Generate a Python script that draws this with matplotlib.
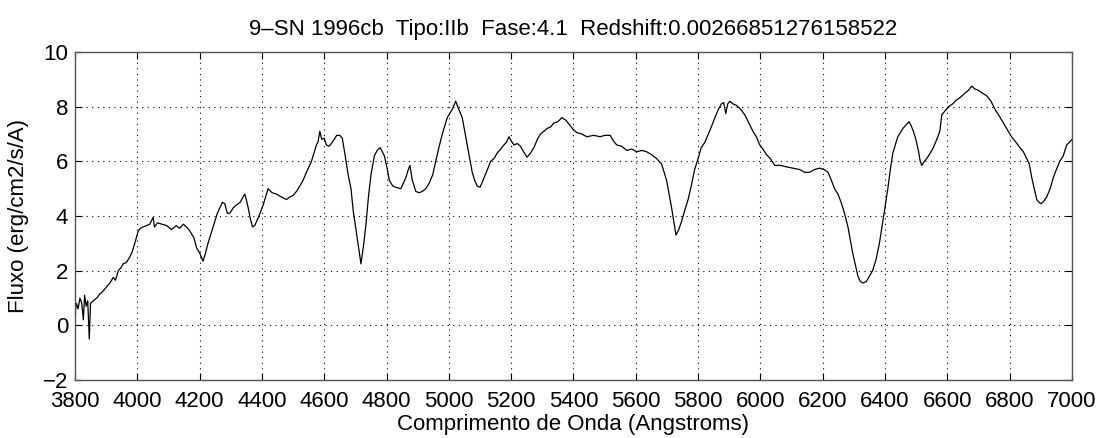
import matplotlib
matplotlib.use("Agg")
import matplotlib.pyplot as plt
import numpy as np

# ---------------------------------------------------------------------
# Spectrum values (wavelength in Angstrom, flux)
# ---------------------------------------------------------------------
wavelength = [
    3800, 3802, 3805, 3810, 3816, 3822, 3827, 3831, 3836, 3841, 3846, 3850,
    3859, 3870, 3880, 3890, 3901, 3912, 3923, 3930, 3939, 3947, 3955, 3965,
    3976, 3984, 3992, 4003, 4010, 4019, 4030, 4040, 4051, 4055, 4065, 4080,
    4094, 4110, 4125, 4136, 4148, 4158, 4166, 4174, 4182, 4190, 4200, 4211,
    4218, 4227, 4238, 4249, 4257, 4265, 4273, 4281, 4289, 4297, 4308, 4318,
    4330, 4345, 4350, 4356, 4363, 4370, 4377, 4383, 4394, 4404, 4412, 4420,
    4433, 4447, 4462, 4479, 4490, 4500, 4511, 4522, 4532, 4543, 4551, 4559,
    4567, 4575, 4580, 4586, 4592, 4600, 4607, 4615, 4623, 4632, 4640, 4650,
    4658, 4666, 4677, 4686, 4693, 4702, 4710, 4718, 4726, 4734, 4742, 4750,
    4761, 4770, 4780, 4793, 4801, 4809, 4820, 4830, 4846, 4862, 4870, 4875,
    4883, 4894, 4905, 4915, 4926, 4937, 4948, 4958, 4968, 4979, 4995, 5011,
    5022, 5032, 5043, 5051, 5059, 5067, 5075, 5083, 5091, 5100, 5106, 5113,
    5124, 5134, 5145, 5155, 5166, 5177, 5185, 5193, 5200, 5209, 5220, 5230,
    5240, 5251, 5262, 5273, 5284, 5294, 5305, 5315, 5326, 5337, 5350, 5363,
    5376, 5390, 5400, 5411, 5427, 5443, 5465, 5486, 5500, 5518, 5528, 5539,
    5555, 5571, 5587, 5603, 5620, 5635, 5650, 5667, 5675, 5683, 5691, 5699,
    5707, 5715, 5722, 5729, 5738, 5747, 5757, 5768, 5778, 5789, 5800, 5810,
    5822, 5833, 5844, 5854, 5865, 5875, 5882, 5889, 5895, 5902, 5912, 5923,
    5937, 5950, 5963, 5976, 5987, 5998, 6008, 6019, 6032, 6046, 6064, 6083,
    6104, 6126, 6142, 6158, 6174, 6190, 6204, 6217, 6228, 6238, 6249, 6259,
    6270, 6281, 6289, 6297, 6305, 6313, 6321, 6329, 6340, 6350, 6360, 6371,
    6382, 6393, 6401, 6409, 6417, 6425, 6433, 6441, 6449, 6457, 6465, 6477,
    6484, 6491, 6499, 6507, 6513, 6518, 6526, 6534, 6545, 6555, 6566, 6576,
    6582, 6593, 6604, 6617, 6630, 6643, 6657, 6668, 6678, 6688, 6699, 6712,
    6726, 6740, 6753, 6767, 6780, 6793, 6806, 6820, 6833, 6844, 6855, 6863,
    6871, 6879, 6887, 6894, 6901, 6910, 6919, 6930, 6940, 6950, 6961, 6972,
    6983, 6992, 7000,
]
flux = [
    -0.3, 0.6, 0.8, 0.6, 1.0, 0.8, 0.2, 1.1, 0.7, 0.9, -0.5, 0.8,
    0.9, 1.0, 1.15, 1.25, 1.4, 1.55, 1.75, 1.65, 2.0, 2.1, 2.25, 2.3,
    2.5, 2.7, 3.0, 3.45, 3.55, 3.6, 3.65, 3.7, 3.95, 3.6, 3.75, 3.7,
    3.65, 3.5, 3.65, 3.55, 3.7, 3.6, 3.5, 3.35, 3.2, 2.85, 2.65, 2.35,
    2.6, 3.0, 3.4, 3.8, 4.1, 4.3, 4.5, 4.45, 4.1, 4.1, 4.3, 4.4,
    4.5, 4.8, 4.6, 4.3, 3.9, 3.6, 3.65, 3.8, 4.1, 4.4, 4.7, 5.0,
    4.85, 4.8, 4.7, 4.6, 4.7, 4.75, 4.9, 5.1, 5.3, 5.6, 5.8, 6.0,
    6.3, 6.6, 6.7, 7.1, 6.8, 6.85, 6.6, 6.55, 6.65, 6.8, 6.95, 6.95,
    6.85, 6.3, 5.5, 5.0, 4.2, 3.5, 2.9, 2.25, 2.9, 3.7, 4.7, 5.5,
    6.2, 6.4, 6.5, 6.2, 5.8, 5.3, 5.1, 5.05, 5.0, 5.4, 5.7, 5.85,
    5.3, 4.9, 4.85, 4.9, 5.0, 5.2, 5.5, 6.0, 6.5, 7.0, 7.6, 7.9,
    8.2, 7.9, 7.6, 7.1, 6.6, 6.1, 5.6, 5.3, 5.1, 5.05, 5.2, 5.4,
    5.7, 6.0, 6.1, 6.3, 6.45, 6.6, 6.7, 6.9, 6.75, 6.6, 6.65, 6.55,
    6.35, 6.15, 6.3, 6.5, 6.8, 7.0, 7.1, 7.2, 7.25, 7.4, 7.45, 7.6,
    7.5, 7.3, 7.15, 7.05, 7.0, 6.9, 6.95, 6.9, 6.95, 6.95, 6.75, 6.6,
    6.55, 6.4, 6.45, 6.35, 6.4, 6.35, 6.25, 6.1, 6.0, 5.9, 5.6, 5.3,
    4.8, 4.3, 3.8, 3.3, 3.5, 3.8, 4.2, 4.6, 5.1, 5.7, 6.1, 6.5,
    6.7, 7.0, 7.3, 7.6, 7.9, 8.1, 8.15, 7.75, 8.1, 8.2, 8.1, 8.05,
    7.9, 7.7, 7.4, 7.1, 6.9, 6.6, 6.45, 6.25, 6.1, 5.85, 5.85, 5.8,
    5.75, 5.7, 5.6, 5.6, 5.7, 5.75, 5.7, 5.6, 5.3, 5.0, 4.8, 4.5,
    4.1, 3.6, 3.1, 2.6, 2.2, 1.8, 1.6, 1.55, 1.6, 1.8, 2.0, 2.4,
    3.0, 3.8, 4.4, 5.0, 5.7, 6.3, 6.6, 6.9, 7.05, 7.2, 7.3, 7.45,
    7.3, 7.1, 6.8, 6.4, 6.0, 5.85, 6.0, 6.1, 6.3, 6.5, 6.8, 7.1,
    7.7, 7.85, 8.0, 8.1, 8.25, 8.35, 8.5, 8.6, 8.75, 8.65, 8.6, 8.5,
    8.4, 8.2, 7.9, 7.65, 7.4, 7.15, 6.9, 6.7, 6.5, 6.35, 6.1, 5.9,
    5.4, 5.0, 4.6, 4.5, 4.45, 4.55, 4.7, 5.0, 5.4, 5.7, 6.0, 6.2,
    6.6, 6.7, 6.8,
]

x_ticks = np.arange(3800, 7001, 200)
y_ticks = np.arange(-2, 11, 2)
title = "9\u2013SN 1996cb  Tipo:IIb  Fase:4.1  Redshift:0.00266851276158522"

# ---------------------------------------------------------------------
# Plot
# ---------------------------------------------------------------------
plt.rcParams["font.family"] = ["Liberation Sans", "DejaVu Sans"]

fig = plt.figure(figsize=(10.99, 4.38), dpi=100)
ax = fig.add_axes([0.0682, 0.1324, 0.9072, 0.7489])

ax.plot(wavelength, flux, color="black", linewidth=0.9)

ax.set_xlim(3800, 7000)
ax.set_ylim(-2, 10)
ax.set_xticks(x_ticks)
ax.set_yticks(y_ticks)
ax.set_yticklabels([str(v).replace("-", "\u2212") for v in y_ticks])
ax.tick_params(direction="in", length=5, labelsize=16, width=0.8, top=True,
               right=True)
ax.tick_params(axis="x", pad=8)
ax.tick_params(axis="y", pad=5)
ax.grid(True, color="black", linestyle=(0, (1, 4)), linewidth=0.8)
for s in ax.spines.values():
    s.set_color("#555555")
    s.set_linewidth(1.0)

ax.set_title(title, fontsize=16, pad=12)
ax.set_xlabel("Comprimento de Onda (Angstroms)", fontsize=16, labelpad=1)
ax.set_ylabel("Fluxo (erg/cm2/s/A)", fontsize=16, labelpad=10)

fig.savefig("out.png", dpi=100)
